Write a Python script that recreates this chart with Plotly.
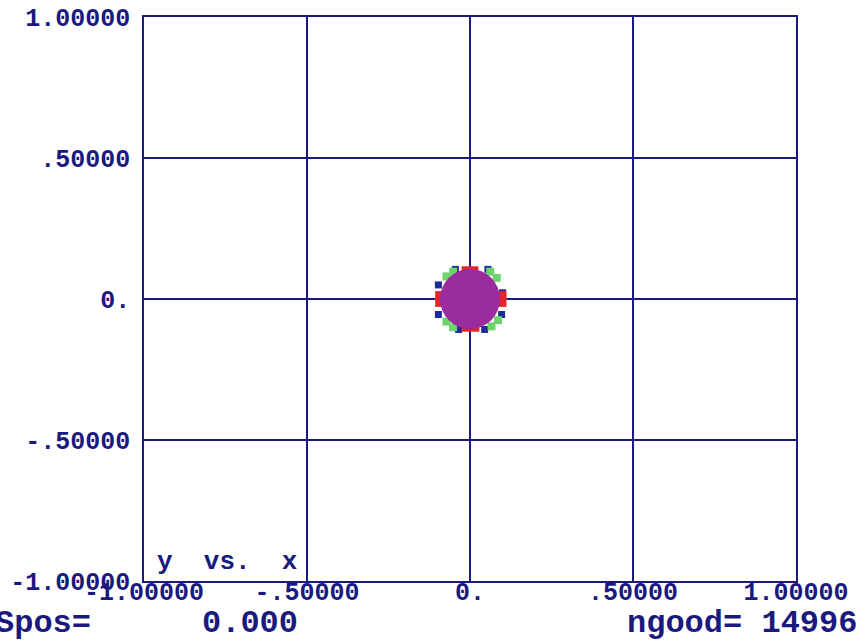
import plotly.graph_objects as go

# ---- data ----
tick_vals = [-1.0, -0.5, 0.0, 0.5, 1.0]
x_tick_text = ["-1.00000", "-.50000", "0.", ".50000", "1.00000"]
y_tick_text = ["-1.00000", "-.50000", "0.", ".50000", "1.00000"]

core_x = [0.0]
core_y = [0.0]

red_x = [-0.093, -0.093, 0.098, 0.098, -0.012, 0.012, -0.012, 0.015]
red_y = [0.012, -0.012, 0.012, -0.012, 0.100, 0.100, -0.100, -0.100]

green_x = [-0.072, -0.052, 0.062, 0.082, -0.072, -0.052, 0.066, 0.086]
green_y = [0.080, 0.097, 0.097, 0.075, -0.080, -0.100, -0.097, -0.075]

blue_x = [-0.097, 0.100, -0.097, 0.097, -0.035, 0.045, -0.045, 0.055]
blue_y = [0.050, 0.022, -0.055, -0.055, -0.108, -0.108, 0.105, 0.105]

s_pos = "0.000"
n_good = 14996

NAVY = "#1a1a7e"
FONT = "Liberation Mono"

fig = go.Figure()
fig.add_trace(go.Scatter(x=blue_x, y=blue_y, mode="markers",
                         marker=dict(symbol="square", size=7, color="#1f2a9a"),
                         hoverinfo="skip", showlegend=False))
fig.add_trace(go.Scatter(x=green_x, y=green_y, mode="markers",
                         marker=dict(symbol="square", size=8, color="#6cd46a"),
                         hoverinfo="skip", showlegend=False))
fig.add_trace(go.Scatter(x=red_x, y=red_y, mode="markers",
                         marker=dict(symbol="square", size=9, color="#e3242c"),
                         hoverinfo="skip", showlegend=False))
fig.add_trace(go.Scatter(x=core_x, y=core_y, mode="markers",
                         marker=dict(symbol="circle", size=60, color="#9a2c9e",
                                     line=dict(width=0)),
                         hoverinfo="skip", showlegend=False))

axis_common = dict(
    range=[-1, 1], tickvals=tick_vals, showgrid=True, gridcolor=NAVY, gridwidth=1.5,
    zeroline=True, zerolinecolor=NAVY, zerolinewidth=1.5,
    showline=True, linecolor=NAVY, linewidth=1.5, mirror=True,
    ticks="", tickfont=dict(family=FONT, size=25, color=NAVY, weight="bold"),
)
fig.update_xaxes(**axis_common, ticktext=x_tick_text, ticklabelstandoff=-13)
fig.update_yaxes(**axis_common, ticktext=y_tick_text, ticklabelstandoff=7)

fig.add_annotation(xref="paper", yref="paper", x=0.017, y=0.034,
                   xanchor="left", yanchor="middle", showarrow=False,
                   text="y\u00a0\u00a0vs.\u00a0\u00a0x",
                   font=dict(family=FONT, size=26, color=NAVY, weight="bold"))
fig.add_annotation(xref="paper", yref="paper", x=-0.232, y=-0.076,
                   xanchor="left", yanchor="middle", showarrow=False,
                   text="Spos=",
                   font=dict(family=FONT, size=32, color=NAVY, weight="bold"))
fig.add_annotation(xref="paper", yref="paper", x=0.086, y=-0.076,
                   xanchor="left", yanchor="middle", showarrow=False,
                   text=s_pos,
                   font=dict(family=FONT, size=32, color=NAVY, weight="bold"))
fig.add_annotation(xref="paper", yref="paper", x=1.097, y=-0.076,
                   xanchor="right", yanchor="middle", showarrow=False,
                   text="ngood=\u00a0" + str(n_good),
                   font=dict(family=FONT, size=32, color=NAVY, weight="bold"))

fig.update_layout(
    width=866, height=642,
    margin=dict(l=144, r=70, t=17, b=61, autoexpand=False),
    paper_bgcolor="white", plot_bgcolor="white",
)

fig.write_html("out.html")
